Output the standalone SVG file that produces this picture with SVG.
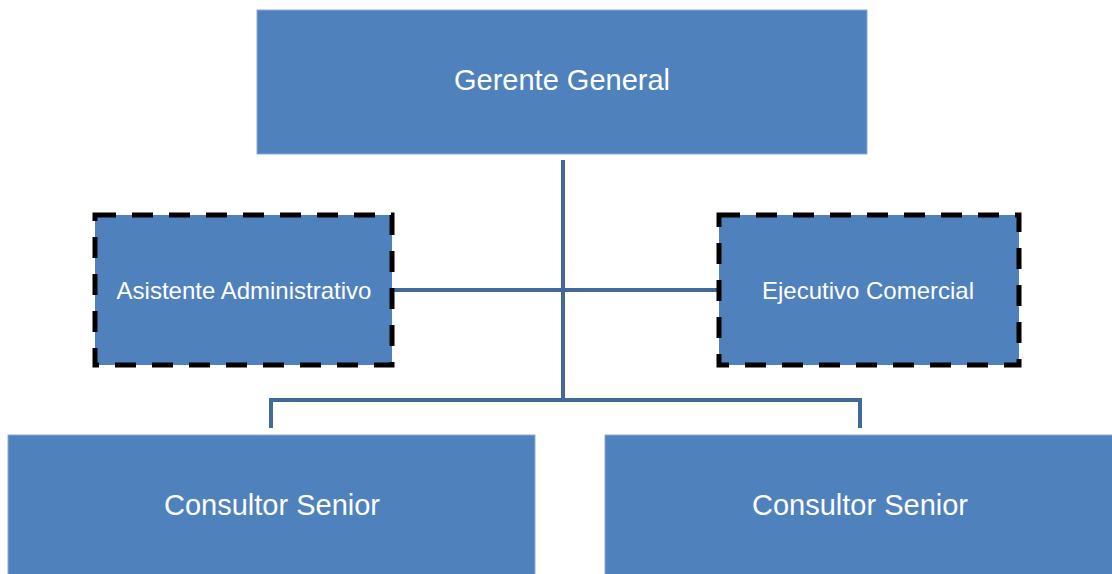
<svg xmlns="http://www.w3.org/2000/svg" width="1112" height="574" viewBox="0 0 1112 574">
<style>
.box{fill:#4F81BD;stroke:#8FAAD3;stroke-width:1}
.dash{fill:#4F81BD;stroke:#000;stroke-width:5;stroke-dasharray:21 16}
.lbl{fill:#fff;font-family:"Liberation Sans",Arial,sans-serif;text-anchor:middle;dominant-baseline:central}
.big{font-size:29px}
.sm{font-size:24px}
.con{fill:none;stroke:#41699A;stroke-width:4}
</style>
<rect width="1112" height="574" fill="#fff"/>
<g id="connectors">
<line class="con" x1="563" y1="160" x2="563" y2="402"/>
<line class="con" x1="393" y1="290" x2="719" y2="290"/>
<polyline class="con" points="271,428 271,400 860,400 860,428"/>
</g>
<g id="gerente">
<rect class="box" x="257" y="10" width="610" height="144"/>
<text class="lbl big" x="562" y="80">Gerente General</text>
</g>
<g id="asistente">
<rect class="dash" x="95" y="215" width="297" height="150"/>
<text class="lbl sm" x="244" y="290">Asistente Administrativo</text>
</g>
<g id="ejecutivo">
<rect class="dash" x="719" y="215" width="300" height="150"/>
<text class="lbl sm" x="868" y="290">Ejecutivo Comercial</text>
</g>
<g id="consultor1">
<rect class="box" x="8" y="435" width="527" height="145"/>
<text class="lbl big" x="272" y="505">Consultor Senior</text>
</g>
<g id="consultor2">
<rect class="box" x="605" y="435" width="512" height="145"/>
<text class="lbl big" x="860" y="505">Consultor Senior</text>
</g>
</svg>
